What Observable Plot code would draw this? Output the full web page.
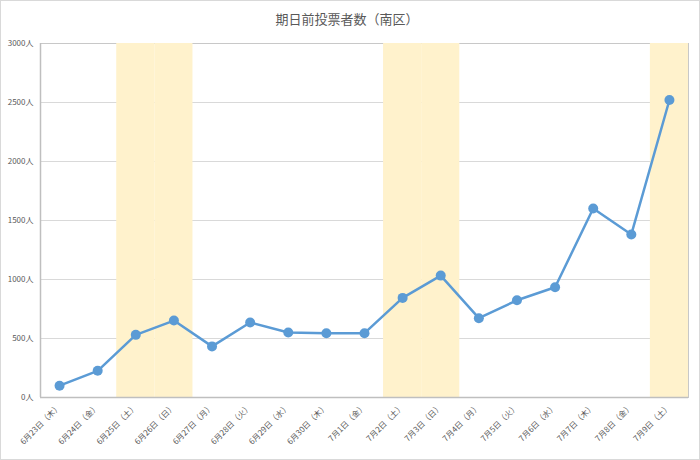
<!DOCTYPE html>
<html>
<head>
<meta charset="utf-8">
<script src="https://cdn.jsdelivr.net/npm/d3@7"></script>
<script src="https://cdn.jsdelivr.net/npm/@observablehq/plot@0.6"></script>
<style>
  body { margin: 0; background: #fff; }
  #wrap { position: relative; width: 700px; height: 460px; font-family: "Noto Sans CJK JP", sans-serif; background: #fff; }
  #title { height: 24px; padding-top: 11px; line-height: 16px; font-size: 13px; color: #595959; text-align: center; padding-right: 6px; }
  #border { position: absolute; left: 0; top: 0; width: 700px; height: 460px; box-sizing: border-box; border: 1px solid #D9D9D9; pointer-events: none; }
  svg { display: block; }
</style>
</head>
<body>
<div id="wrap">
  <div id="title">期日前投票者数（南区）</div>
  <div id="chart"></div>
  <div id="border"></div>
</div>
<script>
const dates = ["6月23日（木）","6月24日（金）","6月25日（土）","6月26日（日）","6月27日（月）","6月28日（火）","6月29日（水）","6月30日（木）","7月1日（金）","7月2日（土）","7月3日（日）","7月4日（月）","7月5日（火）","7月6日（水）","7月7日（木）","7月8日（金）","7月9日（土）"];
const voters = [100, 226, 531, 652, 433, 636, 551, 545, 545, 844, 1033, 672, 824, 934, 1602, 1382, 2521];
const highlightDates = ["6月25日（土）","6月26日（日）","7月2日（土）","7月3日（日）","7月9日（土）"];
const yTicks = [0, 500, 1000, 1500, 2000, 2500, 3000];
const yMax = 3000;

const rows = dates.map((d, i) => ({i, date: d, value: voters[i]}));
const hl = highlightDates.map(d => dates.indexOf(d));
const idx = dates.map((d, i) => i);

const chart = Plot.plot({
  width: 700,
  height: 425,
  marginTop: 8,
  marginBottom: 63,
  marginLeft: 40,
  marginRight: 12,
  style: {fontFamily: '"Noto Sans CJK JP", sans-serif', fontSize: "8px", color: "#595959", background: "transparent"},
  x: {type: "linear", domain: [-0.5, dates.length - 0.5], axis: null},
  y: {domain: [0, yMax], axis: null},
  marks: [
    Plot.ruleY(yTicks.filter(t => t > 0 && t < yMax), {stroke: "#D9D9D9", strokeWidth: 1}),
    Plot.frame({stroke: "#C8C8C8", strokeWidth: 1}),
    Plot.rectY(hl, {x1: i => i - 0.5, x2: i => i + 0.5, y1: 0, y2: yMax, fill: "#FFF2CC"}),
    Plot.ruleY([0], {stroke: "#BFBFBF", strokeWidth: 1.5}),
    Plot.ruleX([-0.5], {stroke: "#BFBFBF", strokeWidth: 1.5}),
    Plot.line(rows, {x: "i", y: "value", stroke: "#5B9BD5", strokeWidth: 2.5}),
    Plot.dot(rows, {x: "i", y: "value", r: 5, fill: "#5B9BD5", stroke: "none"}),
    Plot.axisY({ticks: yTicks, tickFormat: d => d + "人", tickSize: 0, tickPadding: 7, label: null, fontSize: 8}),
    Plot.axisX({ticks: idx, tickFormat: i => dates[i], tickSize: 0, tickPadding: 8, tickRotate: -45, label: null, fontSize: 8})
  ]
});
document.getElementById("chart").appendChild(chart);
</script>
</body>
</html>
